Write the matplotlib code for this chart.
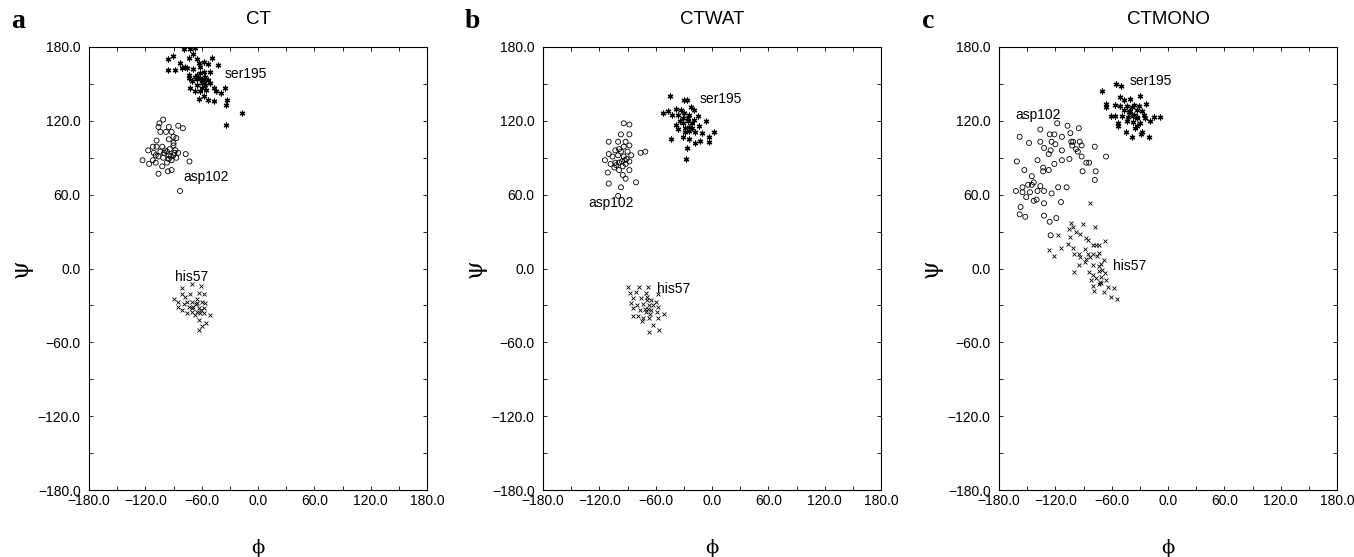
import matplotlib
matplotlib.use("Agg")
import matplotlib.pyplot as plt
from matplotlib.ticker import MultipleLocator, FuncFormatter

# --- DATA (phi, psi in degrees) ---
PANELS = ["CT", "CTWAT", "CTMONO"]
LETTERS = ["a", "b", "c"]

ct_ser_phi = [-79, -72, -67, -91, -96, -96, -88, -83, -78, -73, -69, -65, -58, -49, -43, -53, -62, -69, -73,
              -65, -62, -56, -53, -60, -65, -70, -72, -67, -62, -55, -47, -45, -39, -35, -58, -63, -53, -47,
              -33, -34, -17, -34, -81, -76, -58, -51, -63, -74, -56, -51, -60, -65, -62, -67, -60, -57]
ct_ser_psi = [178, 178, 179, 173, 170, 161, 161, 167, 164, 171, 174, 170, 168, 171, 165, 166, 164, 162, 157,
              157, 155, 156, 153, 151, 149, 152, 147, 144, 144, 145, 147, 144, 143, 147, 140, 138, 137, 136,
              137, 133, 126, 117, 163, 163, 160, 160, 167, 155, 149, 151, 153, 154, 159, 156, 147, 152]

ct_asp_phi = [-101, -105, -106, -95, -85, -80, -104, -98, -92, -90, -87, -108, -95, -90, -112, -108, -102,
              -117, -111, -99, -94, -88, -85, -77, -123, -112, -106, -101, -95, -90, -87, -73, -116, -109,
              -102, -97, -92, -106, -96, -83, -97, -93, -92, -100, -90, -104, -109, -89, -95]
ct_asp_psi = [121, 118, 115, 115, 116, 114, 111, 111, 111, 107, 106, 104, 105, 102, 99, 99, 99,
              96, 94, 96, 97, 96, 94, 93, 88, 88, 91, 90, 92, 92, 90, 87, 85, 86,
              83, 86, 80, 77, 79, 63, 95, 91, 88, 94, 100, 95, 92, 94, 89]

ct_his_phi = [-81, -70, -61, -90, -85, -81, -78, -72, -63, -57, -76, -70, -65, -60, -56, -85, -81, -74, -69,
              -63, -58, -76, -70, -65, -62, -51, -63, -55, -60, -63, -66, -61, -70, -65, -79, -67, -58]
ct_his_psi = [-16, -13, -14, -25, -27, -21, -23, -21, -20, -21, -27, -27, -25, -27, -28, -31, -34, -31, -31,
              -32, -32, -36, -35, -35, -36, -38, -42, -44, -47, -50, -29, -34, -32, -28, -29, -38, -36]

wat_ser_phi = [-45, -30, -27, -52, -47, -38, -33, -22, -19, -43, -36, -30, -24, -15, -6, -38, -31, -26, -21,
               -14, -36, -29, -24, -18, -11, -3, 2, -3, -44, -31, -25, -18, -13, -27, -28, -26, -31, -24,
               -19, -29, -21, -34]
wat_ser_psi = [140, 137, 137, 126, 128, 130, 129, 131, 129, 125, 125, 126, 125, 124, 120, 117, 118, 120, 118,
               116, 113, 114, 112, 111, 110, 107, 111, 103, 105, 107, 105, 102, 104, 98, 89, 122, 122, 115,
               121, 111, 114, 120]

wat_asp_phi = [-94, -88, -88, -97, -110, -100, -92, -94, -88, -103, -97, -90, -76, -71, -110, -106, -100,
               -94, -86, -114, -108, -103, -99, -92, -88, -111, -104, -99, -95, -88, -92, -110, -97, -81,
               -100, -95, -102, -91, -96, -99, -93]
wat_asp_psi = [118, 117, 109, 109, 103, 103, 103, 99, 100, 96, 95, 95, 94, 95, 93, 91, 92,
               91, 92, 88, 85, 86, 86, 85, 87, 78, 82, 80, 76, 80, 73, 69, 66, 70,
               59, 83, 84, 89, 87, 97, 88]

wat_his_phi = [-89, -78, -68, -87, -81, -70, -57, -84, -76, -69, -65, -60, -86, -80, -74, -67, -63, -57, -84,
               -77, -70, -65, -59, -51, -84, -79, -73, -67, -58, -75, -63, -56, -67, -69, -68, -71, -66]
wat_his_psi = [-15, -15, -15, -20, -19, -20, -21, -24, -24, -23, -26, -27, -28, -30, -29, -30, -30, -31, -32,
               -34, -35, -34, -35, -37, -39, -39, -40, -40, -40, -43, -46, -50, -52, -26, -33, -33, -37]

mono_ser_phi = [-55, -50, -70, -66, -66, -51, -47, -40, -30, -23, -56, -51, -44, -36, -31, -47, -40, -33, -28,
                -26, -61, -56, -49, -43, -37, -33, -24, -15, -8, -53, -44, -37, -30, -19, -53, -35, -33, -45,
                -28, -38, -29, -20, -38, -36, -33, -42]
mono_ser_psi = [150, 148, 144, 134, 131, 139, 137, 138, 140, 134, 133, 132, 132, 133, 132, 129, 128, 129, 128,
                125, 124, 124, 124, 123, 124, 123, 122, 123, 123, 118, 120, 119, 118, 120, 116, 114, 116, 111,
                111, 107, 109, 107, 131, 125, 122, 127]

mono_asp_phi = [-118, -107, -95, -136, -158, -148, -136, -126, -121, -124, -120, -113, -104, -103, -101, -94,
                -92, -102, -132, -125, -127, -113, -98, -96, -78, -66, -139, -113, -105, -92, -87, -84, -161,
                -153, -133, -133, -127, -121, -91, -77, -78, -145, -143, -149, -155, -145, -136, -132, -124,
                -117, -108, -162, -155, -147, -139, -151, -143, -140, -132, -114, -157, -158, -152, -132,
                -126, -119, -125]
mono_asp_psi = [118, 116, 114, 113, 107, 102, 103, 109, 109, 103, 101, 107, 110, 103, 103, 103,
                100, 100, 98, 96, 93, 96, 97, 95, 99, 91, 88, 88, 89, 91, 86, 86, 87,
                80, 82, 79, 80, 85, 79, 79, 72, 75, 70, 68, 66, 68, 67, 63, 61,
                66, 66, 63, 62, 62, 63, 58, 55, 56, 53, 54, 50, 44, 42, 43,
                38, 41, 27]

mono_his_phi = [-83, -103, -101, -91, -78, -105, -98, -94, -117, -104, -87, -85, -67, -106, -101, -80, -77,
                -73, -114, -127, -88, -121, -100, -95, -94, -85, -80, -73, -87, -83, -76, -95, -88, -80, -73,
                -71, -68, -100, -84, -80, -74, -67, -82, -77, -71, -66, -73, -80, -71, -64, -57, -79, -68,
                -61, -54, -72, -70]
mono_his_psi = [53, 37, 34, 36, 34, 32, 30, 28, 27, 26, 25, 23, 22, 20, 17, 19, 19,
                19, 17, 15, 16, 10, 12, 12, 9, 12, 12, 13, 8, 9, 10, 3, 5, 3, 2,
                4, 7, -3, -3, -5, -2, -4, -9, -8, -7, -9, -13, -14, -12, -15, -16, -18, -19,
                -23, -25, -11, -1]

SER = [(ct_ser_phi, ct_ser_psi), (wat_ser_phi, wat_ser_psi), (mono_ser_phi, mono_ser_psi)]
ASP = [(ct_asp_phi, ct_asp_psi), (wat_asp_phi, wat_asp_psi), (mono_asp_phi, mono_asp_psi)]
HIS = [(ct_his_phi, ct_his_psi), (wat_his_phi, wat_his_psi), (mono_his_phi, mono_his_psi)]

# label anchor (phi, psi) per panel: ser195, asp102, his57
SER_LABEL = [(-36, 158), (-13, 138), (-41, 152)]
ASP_LABEL = [(-80, 74), (-132, 53), (-163, 125)]
HIS_LABEL = [(-88, -7), (-59, -17), (-59, 2)]


def deg_fmt(v, pos):
    return f"{v:.1f}".replace("-", "\u2212")


# --- PLOT ---
plt.rcParams["font.family"] = ["Liberation Sans", "DejaVu Sans"]
fig = plt.figure(figsize=(13.54, 5.57), dpi=100)

lefts = [89, 543, 999]
for i, name in enumerate(PANELS):
    ax = fig.add_axes([lefts[i] / 1354, 67 / 557, 338 / 1354, 443 / 557])

    ax.scatter(*SER[i], marker=(6, 2, 0), s=12, color="black", linewidths=0.9)
    ax.scatter(*ASP[i], marker="o", s=13, facecolors="none", edgecolors="black", linewidths=0.6)
    ax.scatter(*HIS[i], marker="x", s=8, color="black", linewidths=0.6)

    ax.text(*SER_LABEL[i], "ser195", fontsize=10, va="center", ha="left")
    ax.text(*ASP_LABEL[i], "asp102", fontsize=10, va="center", ha="left")
    ax.text(*HIS_LABEL[i], "his57", fontsize=10, va="center", ha="left")

    ax.set_xlim(-180, 180)
    ax.set_ylim(-180, 180)
    ax.xaxis.set_major_locator(MultipleLocator(60))
    ax.yaxis.set_major_locator(MultipleLocator(60))
    ax.xaxis.set_minor_locator(MultipleLocator(30))
    ax.yaxis.set_minor_locator(MultipleLocator(30))
    ax.xaxis.set_major_formatter(FuncFormatter(deg_fmt))
    ax.yaxis.set_major_formatter(FuncFormatter(deg_fmt))
    ax.tick_params(which="both", direction="in", top=True, right=True, length=3, width=0.6,
                   labelsize=10)
    ax.tick_params(axis="x", pad=3)
    ax.tick_params(axis="y", pad=6)
    for sp in ax.spines.values():
        sp.set_linewidth(0.8)

    ax.text(0.5, 1.061, name, transform=ax.transAxes, ha="center", va="center", fontsize=13.5)
    ax.text(-0.21, 1.058, LETTERS[i], transform=ax.transAxes, ha="center", va="center",
            fontsize=20, fontweight="bold", family="Liberation Serif")
    ax.text(0.5, -0.131, "\u03d5", transform=ax.transAxes, ha="center", va="center",
            fontsize=14, family="DejaVu Serif")
    ax.text(-0.2, 0.5, "\u03c8", transform=ax.transAxes, ha="center", va="center",
            fontsize=17, family="DejaVu Serif", rotation=90)

fig.savefig("out.png", dpi=100)
